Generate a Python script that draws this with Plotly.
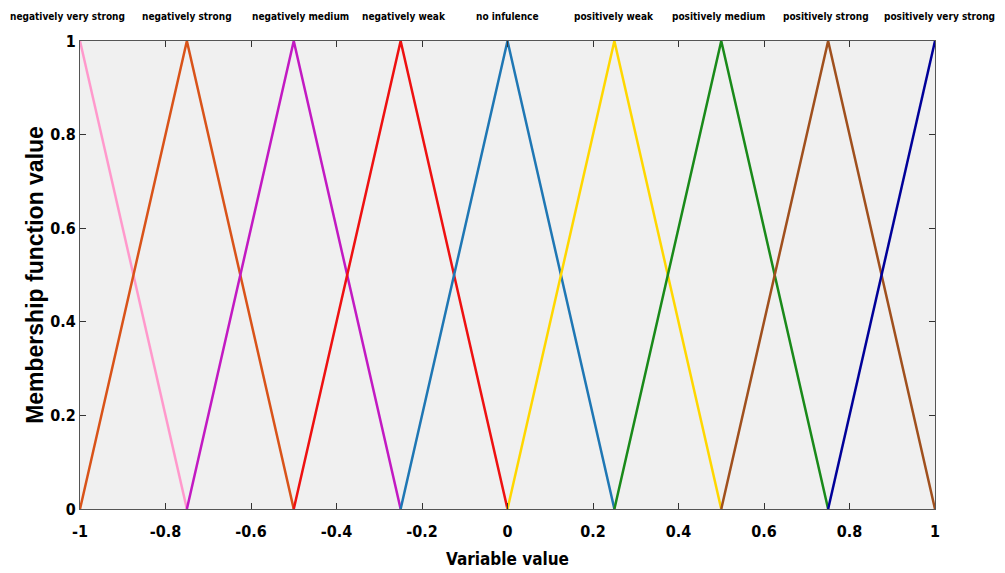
import plotly.graph_objects as go

labels = ["negatively very strong", "negatively strong", "negatively medium", "negatively weak",
          "no infulence", "positively weak", "positively medium", "positively strong",
          "positively very strong"]
peaks = [-1.0, -0.75, -0.5, -0.25, 0.0, 0.25, 0.5, 0.75, 1.0]
xs = [
    [-1.0, -0.75],
    [-1.0, -0.75, -0.5],
    [-0.75, -0.5, -0.25],
    [-0.5, -0.25, 0.0],
    [-0.25, 0.0, 0.25],
    [0.0, 0.25, 0.5],
    [0.25, 0.5, 0.75],
    [0.5, 0.75, 1.0],
    [0.75, 1.0],
]
ys = [
    [1, 0],
    [0, 1, 0],
    [0, 1, 0],
    [0, 1, 0],
    [0, 1, 0],
    [0, 1, 0],
    [0, 1, 0],
    [0, 1, 0],
    [0, 1],
]
colors = ["#ff99cc", "#d95319", "#c21ac2", "#ee1111", "#1f77b4", "#ffd700", "#1a8a1a", "#a0501e", "#000099"]
label_x_offset = [-13, 0, 7, 3, 0, 0, -3, -2, 4]

xticks = [-1, -0.8, -0.6, -0.4, -0.2, 0, 0.2, 0.4, 0.6, 0.8, 1]
yticks = [0, 0.2, 0.4, 0.6, 0.8, 1]

narrow = "DejaVu Sans Condensed, Liberation Sans Narrow, Arial Narrow, Liberation Sans, Arial"

fig = go.Figure()
for i in range(len(labels)):
    fig.add_trace(go.Scatter(x=xs[i], y=ys[i], mode="lines", name=labels[i],
                             line=dict(color=colors[i], width=2.5), showlegend=False))

for i in range(len(labels)):
    fig.add_annotation(x=peaks[i], y=1, xref="x", yref="paper", yanchor="bottom",
                       xshift=label_x_offset[i], yshift=17,
                       text="<b>" + labels[i] + "</b>", showarrow=False,
                       font=dict(family=narrow, size=10, color="black"))

axis_common = dict(showline=True, linecolor="#555555", linewidth=1, mirror="ticks",
                   ticks="inside", ticklen=6, tickcolor="#333333", showgrid=False,
                   zeroline=False, automargin=False)

fig.update_layout(
    width=997, height=565,
    margin=dict(l=72, r=70, t=33, b=64),
    plot_bgcolor="#f0f0f0", paper_bgcolor="white",
    xaxis=dict(range=[-1, 1], tickvals=xticks, ticktext=["<b>%g</b>" % v for v in xticks],
               tickfont=dict(family=narrow, size=16, color="black"), ticklabelstandoff=8,
               title=dict(text="<b>Variable value</b>", font=dict(family=narrow, size=17, color="black"), standoff=12),
               **axis_common),
    yaxis=dict(range=[0, 1], tickvals=yticks, ticktext=["<b>%g</b>" % v for v in yticks],
               tickfont=dict(family=narrow, size=16, color="black"), ticklabelstandoff=0,
               title=dict(text="<b>Membership function value</b>", font=dict(family="Liberation Sans, Arial", size=23, color="black"), standoff=0),
               **axis_common),
)

fig.write_html("out.html")
